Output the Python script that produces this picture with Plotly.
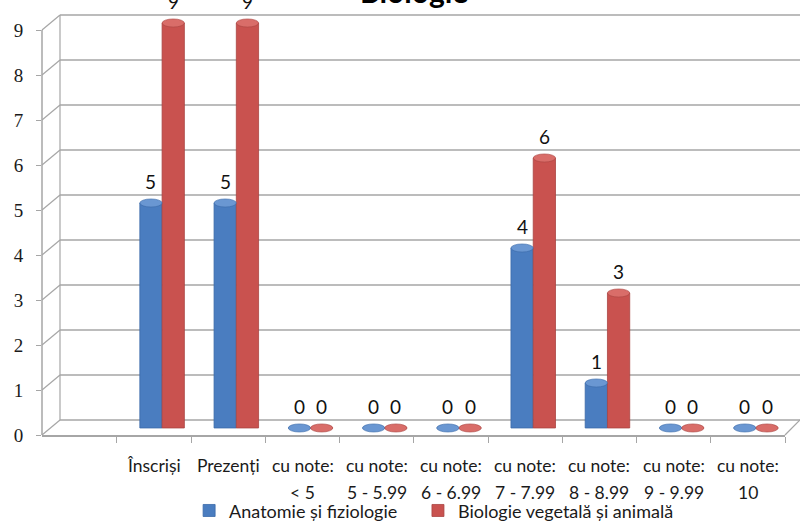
import plotly.graph_objects as go
import numpy as np

categories_row1 = ["Înscriși", "Prezenți", "cu note:", "cu note:", "cu note:", "cu note:", "cu note:", "cu note:", "cu note:"]
categories_row2 = ["", "", "&lt; 5", "5 - 5.99", "6 - 6.99", "7 - 7.99", "8 - 8.99", "9 - 9.99", "10"]
anatomie = [5, 5, 0, 0, 0, 4, 1, 0, 0]
biologie = [9, 9, 0, 0, 0, 6, 3, 0, 0]
y_ticks = list(range(0, 10))

BLUE = "#4a7dc0"
RED = "#c9524f"
BLUE_TOP = "#6a97d2"
RED_TOP = "#d96d69"
GRID = "#a6a6a6"
FONT = "Lato"

idx = np.arange(len(categories_row1))
shift = 0.108   # depth offset of the bars
w = 0.30        # bar width
depth_y = 0.333 # back-wall offset in y units
x_lo, x_hi = -1.51, 8.5
y_top = 9.356
px_w = 743.0
depth_x = 18.0 / px_w
right_x = 758.0 / px_w

fig = go.Figure()
fig.add_trace(go.Scatter(x=[], y=[], yaxis="y", showlegend=False, hoverinfo="skip"))
fig.add_trace(go.Bar(x=idx + shift, y=anatomie, name="Anatomie și fiziologie",
                     width=w, offset=-w, marker=dict(color=BLUE, line=dict(color="#3a6aa8", width=0.8)),
                     yaxis="y2", showlegend=True, legend="legend"))
fig.add_trace(go.Bar(x=idx + shift, y=biologie, name="Biologie vegetală și animală",
                     width=w, offset=0, marker=dict(color=RED, line=dict(color="#a94441", width=0.8)),
                     yaxis="y2", showlegend=True, legend="legend2"))

shapes = []
for v in y_ticks:
    yb = (v + depth_y) / y_top
    shapes.append(dict(type="line", xref="paper", yref="paper", x0=depth_x, x1=right_x, y0=yb, y1=yb,
                       line=dict(color=GRID, width=1.5), layer="below"))
    shapes.append(dict(type="line", xref="paper", yref="paper", x0=0, x1=depth_x, y0=v / y_top, y1=yb,
                       line=dict(color=GRID, width=1.2), layer="below"))
shapes.append(dict(type="line", xref="paper", yref="paper", x0=depth_x, x1=depth_x,
                   y0=depth_y / y_top, y1=(9 + depth_y) / y_top, line=dict(color=GRID, width=1.2), layer="below"))
shapes.append(dict(type="line", xref="paper", yref="paper", x0=0, x1=0,
                   y0=0, y1=9 / y_top, line=dict(color=GRID, width=1.5), layer="below"))
shapes.append(dict(type="line", xref="paper", yref="paper", x0=1, x1=right_x,
                   y0=0, y1=depth_y / y_top, line=dict(color=GRID, width=1.2), layer="below"))
for i, (a, b) in enumerate(zip(anatomie, biologie)):
    c = i + shift
    shapes.append(dict(type="circle", xref="x", yref="y2", x0=c - w, x1=c, y0=a - 0.09, y1=a + 0.09,
                       fillcolor=BLUE_TOP, line=dict(color="#3a6aa8", width=0.6)))
    shapes.append(dict(type="circle", xref="x", yref="y2", x0=c, x1=c + w, y0=b - 0.09, y1=b + 0.09,
                       fillcolor=RED_TOP, line=dict(color="#a94441", width=0.6)))

annotations = []
for i, (a, b) in enumerate(zip(anatomie, biologie)):
    c = i + shift
    annotations.append(dict(x=c - w / 2, y=a, xref="x", yref="y2", text=str(a), showarrow=False,
                            yanchor="bottom", yshift=8, font=dict(family=FONT, size=19, color="#111")))
    annotations.append(dict(x=c + w / 2, y=b, xref="x", yref="y2", text=str(b), showarrow=False,
                            yanchor="bottom", yshift=8, font=dict(family=FONT, size=19, color="#111")))
for i, (r1, r2) in enumerate(zip(categories_row1, categories_row2)):
    annotations.append(dict(x=i, y=-0.0713, xref="x", yref="paper", text=r1, showarrow=False,
                            yanchor="middle", font=dict(family=FONT, size=17.5, color="#1a1a1a")))
    if r2:
        annotations.append(dict(x=i, y=-0.1354, xref="x", yref="paper", text=r2, showarrow=False,
                                yanchor="middle", font=dict(family=FONT, size=17.5, color="#1a1a1a")))
annotations.append(dict(x=0.501, y=1.0, xref="paper", yref="paper", text="<b>Biologie</b>", showarrow=False,
                        yanchor="bottom", yshift=3, font=dict(family=FONT, size=30, color="#000")))

legend_style = dict(orientation="h", xanchor="left", y=-0.18, yanchor="middle",
                    font=dict(family=FONT, size=18, color="#1a1a1a"), itemwidth=30,
                    bgcolor="rgba(0,0,0,0)")

fig.update_layout(
    width=800, height=521,
    margin=dict(l=42, r=15, t=14, b=86, autoexpand=False),
    paper_bgcolor="white", plot_bgcolor="white",
    barmode="overlay",
    font=dict(family=FONT, size=15, color="#1a1a1a"),
    xaxis=dict(range=[x_lo, x_hi], tickvals=list(np.append(idx - 0.5, idx[-1] + 0.5)), ticktext=[""] * (len(idx) + 1),
               ticks="outside", ticklen=6, tickcolor=GRID, showgrid=False, zeroline=False,
               showline=True, linecolor=GRID, linewidth=1.5, fixedrange=True),
    yaxis=dict(range=[0, y_top], tickvals=y_ticks, ticks="outside", ticklen=5, tickcolor=GRID,
               showgrid=False, zeroline=False, showline=False, ticklabelstandoff=9,
               tickfont=dict(family="Liberation Serif", size=19, color="#1a1a1a")),
    yaxis2=dict(range=[-0.156, 9.2], overlaying="y", visible=False),
    shapes=shapes,
    annotations=annotations,
    legend=dict(x=0.198, **legend_style),
    legend2=dict(x=0.506, **legend_style),
)

fig.write_html("out.html", config={"displayModeBar": False},
               post_script="document.body.style.margin='0px';")
